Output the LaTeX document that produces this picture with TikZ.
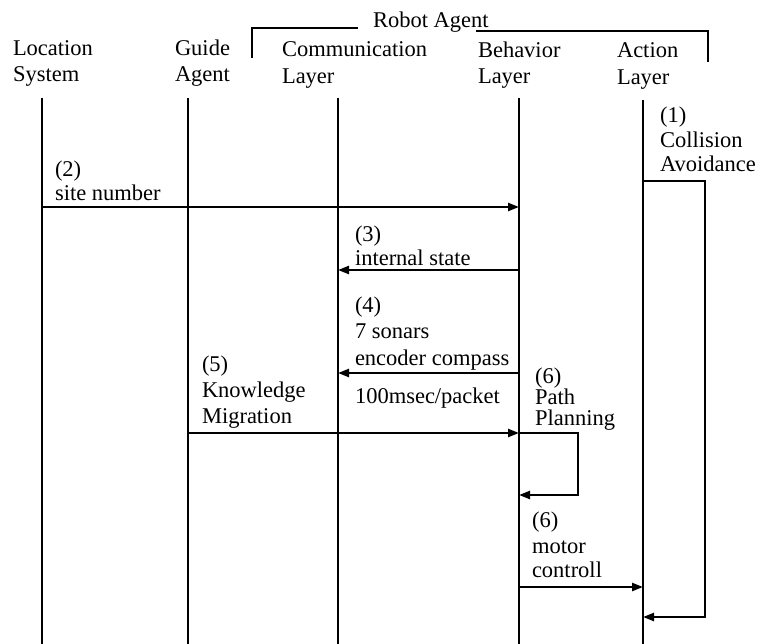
\documentclass[tikz,border=0pt]{standalone}
\usepackage{fontspec}
\setmainfont{Liberation Serif}
\usetikzlibrary{arrows.meta}

\tikzset{
  txt/.style={anchor=base west, inner sep=0pt, outer sep=0pt,
              font=\fontsize{22.5}{25}\selectfont},
  lifeline/.style={line width=2.6pt},
  msg/.style={line width=2.3pt, -{Triangle[length=11pt,width=8pt]}},
  bracket/.style={line width=1.8pt}
}

\begin{document}
\begin{tikzpicture}[x=1pt, y=-1pt]
  \fill[white] (0,0) rectangle (762,644);
  \useasboundingbox (0,0) rectangle (762,644);

  % group bracket over the robot's three layers
  \node[txt] (robot) at (373,28) {Robot Agent};
  \coordinate (brL0) at (252,58);
  \coordinate (brL1) at (252,28);
  \coordinate (brL2) at (358,28);
  \coordinate (brR0) at (476,31);
  \coordinate (brR1) at (708,31);
  \coordinate (brR2) at (708,62);
  \draw[bracket] (brL0) -- (brL1) -- (brL2);
  \draw[bracket] (brR0) -- (brR1) -- (brR2);

  % column headings
  \node[txt] (h1a) at (13,56) {Location};
  \node[txt] (h1b) at (13,82) {System};
  \node[txt] (h2a) at (175,56) {Guide};
  \node[txt] (h2b) at (175,82) {Agent};
  \node[txt] (h3a) at (282,57) {Communication};
  \node[txt] (h3b) at (282,84) {Layer};
  \node[txt] (h4a) at (478,58) {Behavior};
  \node[txt] (h4b) at (478,84) {Layer};
  \node[txt] (h5a) at (617,58) {Action};
  \node[txt] (h5b) at (617,85) {Layer};

  % lifelines
  \coordinate (locT) at (42,98);   \coordinate (locB) at (42,644);
  \coordinate (guiT) at (188,98);  \coordinate (guiB) at (188,644);
  \coordinate (comT) at (338,98);  \coordinate (comB) at (338,644);
  \coordinate (behT) at (519,98);  \coordinate (behB) at (519,644);
  \coordinate (actT) at (643,100); \coordinate (actB) at (643,644);
  \foreach \t/\b in {locT/locB, guiT/guiB, comT/comB, behT/behB, actT/actB}
    \draw[lifeline] (\t) -- (\b);

  % (1) collision avoidance, action layer loop
  \node[txt] (t1a) at (660,123) {(1)};
  \node[txt] (t1b) at (660,148) {Collision};
  \node[txt] (t1c) at (660,172) {Avoidance};
  \coordinate (ca0) at (643,181);
  \coordinate (ca1) at (705,181);
  \coordinate (ca2) at (705,617);
  \coordinate (ca3) at (643,617);
  \draw[msg] (ca0) -- (ca1) -- (ca2) -- (ca3);

  % (2) site number
  \node[txt] (t2a) at (55,177) {(2)};
  \node[txt] (t2b) at (55,201) {site number};
  \coordinate (m2s) at (42,207);
  \coordinate (m2e) at (519,207);
  \draw[msg] (m2s) -- (m2e);

  % (3) internal state
  \node[txt] (t3a) at (355,241) {(3)};
  \node[txt] (t3b) at (355,265) {internal state};
  \coordinate (m3s) at (519,270);
  \coordinate (m3e) at (338,270);
  \draw[msg] (m3s) -- (m3e);

  % (4) sensor data
  \node[txt] (t4a) at (355,312) {(4)};
  \node[txt] (t4b) at (355,338) {7 sonars};
  \node[txt] (t4c) at (355,365) {encoder compass};
  \node[txt] (t4d) at (355,403) {100msec/packet};
  \coordinate (m4s) at (519,373);
  \coordinate (m4e) at (338,373);
  \draw[msg] (m4s) -- (m4e);

  % (5) knowledge migration
  \node[txt] (t5a) at (202,371) {(5)};
  \node[txt] (t5b) at (202,397) {Knowledge};
  \node[txt] (t5c) at (202,423) {Migration};
  \coordinate (m5s) at (188,433);
  \coordinate (m5e) at (519,433);
  \draw[msg] (m5s) -- (m5e);

  % (6) path planning, behavior layer loop
  \node[txt] (t6a) at (535,383) {(6)};
  \node[txt] (t6b) at (535,404) {Path};
  \node[txt] (t6c) at (535,425) {Planning};
  \coordinate (pp0) at (519,433);
  \coordinate (pp1) at (578,433);
  \coordinate (pp2) at (578,495);
  \coordinate (pp3) at (519,495);
  \draw[msg] (pp0) -- (pp1) -- (pp2) -- (pp3);

  % (6) motor control
  \node[txt] (t7a) at (532,527) {(6)};
  \node[txt] (t7b) at (532,553) {motor};
  \node[txt] (t7c) at (532,577) {controll};
  \coordinate (m7s) at (519,587);
  \coordinate (m7e) at (643,587);
  \draw[msg] (m7s) -- (m7e);
\end{tikzpicture}
\end{document}
